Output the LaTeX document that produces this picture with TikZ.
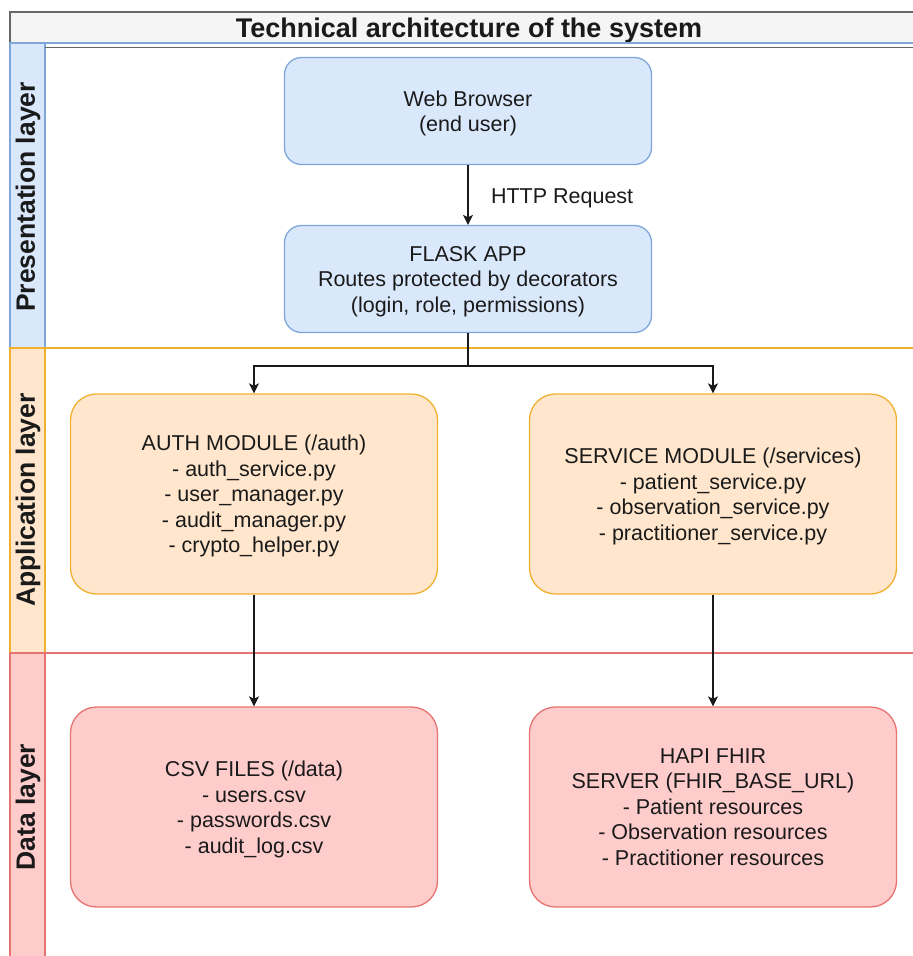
\documentclass[tikz,border=0pt]{standalone}
\usepackage{fontspec}
\setmainfont{Liberation Sans}
\usetikzlibrary{arrows.meta}
\definecolor{titlefill}{HTML}{F5F5F5}
\definecolor{titleline}{HTML}{666666}
\definecolor{bluefill}{HTML}{DAE8FC}
\definecolor{blueline}{HTML}{7EA6D8}
\definecolor{orangefill}{HTML}{FFE6CC}
\definecolor{orangeline}{HTML}{F0B030}
\definecolor{redfill}{HTML}{FFCCCC}
\definecolor{redline}{HTML}{E57370}
\definecolor{ink}{HTML}{1A1A1A}
\begin{document}
\begin{tikzpicture}[x=1pt, y=-1pt,
    box/.style={draw, line width=1.3pt, minimum width=367pt, inner sep=0pt, align=center,
      text=ink, font=\fontsize{21.5}{25.5}\selectfont, text depth=0pt},
    bluebox/.style={box, fill=bluefill, draw=blueline, minimum height=107pt, rounded corners=17pt},
    orangebox/.style={box, fill=orangefill, draw=orangeline, minimum height=200pt, rounded corners=26pt},
    redbox/.style={box, fill=redfill, draw=redline, minimum height=200pt, rounded corners=26pt},
    lanelabel/.style={rotate=90, text=ink, font=\bfseries\fontsize{26.5}{30}\selectfont},
    arr/.style={draw=ink, line width=1.4pt, -{Stealth[length=10pt, width=10pt, inset=2.5pt]}}]
  \path[use as bounding box, clip] (0,0) rectangle (913,956);
  % title and lanes
  \draw[draw=titleline, fill=titlefill, line width=1.3pt] (10,12) rectangle (928,43);
  \node[text=ink, font=\bfseries\fontsize{27}{30}\selectfont] (title) at (469,31) {Technical architecture of the system};
  \draw[draw=blueline, line width=1.3pt] (45,43) rectangle (928,348);
  \draw[draw=blueline, fill=bluefill, line width=1.3pt] (10,43) rectangle (45,348);
  \draw[draw=titleline, line width=1pt] (45,47.5) -- (928,47.5);
  \draw[draw=orangeline, line width=1.3pt] (45,348) rectangle (928,653);
  \draw[draw=orangeline, fill=orangefill, line width=1.3pt] (10,348) rectangle (45,653);
  \draw[draw=redline, line width=1.3pt] (45,653) rectangle (928,958);
  \draw[draw=redline, fill=redfill, line width=1.3pt] (10,653) rectangle (45,958);
  \node[lanelabel] (presentation) at (28,197) {Presentation layer};
  \node[lanelabel] (application) at (28,500) {Application layer};
  \node[lanelabel] (data) at (28,807) {Data layer};
  % boxes
  \node[bluebox] (browser) at (468,111) {Web Browser\\(end user)};
  \node[bluebox] (flask) at (468,279) {FLASK APP\\Routes protected by decorators\\(login, role, permissions)};
  \node[orangebox] (auth) at (254,494) {AUTH MODULE (/auth)\\- auth\_service.py\\- user\_manager.py\\- audit\_manager.py\\- crypto\_helper.py};
  \node[orangebox] (service) at (713,494) {SERVICE MODULE (/services)\\- patient\_service.py\\- observation\_service.py\\- practitioner\_service.py};
  \node[redbox] (csv) at (254,807) {CSV FILES (/data)\\- users.csv\\- passwords.csv\\- audit\_log.csv};
  \node[redbox] (fhir) at (713,807) {HAPI FHIR\\SERVER (FHIR\_BASE\_URL)\\- Patient resources\\- Observation resources\\- Practitioner resources};
  % connectors
  \draw[arr] (browser) -- (flask) node[midway, right=19pt, yshift=-3pt, text=ink, font=\fontsize{21.5}{26}\selectfont] (http) {HTTP Request};
  \coordinate (split) at (468,366);
  \draw[arr] (flask) -- (split) -| (auth);
  \draw[arr] (split) -| (service);
  \draw[arr] (auth) -- (csv);
  \draw[arr] (service) -- (fhir);
\end{tikzpicture}
\end{document}
